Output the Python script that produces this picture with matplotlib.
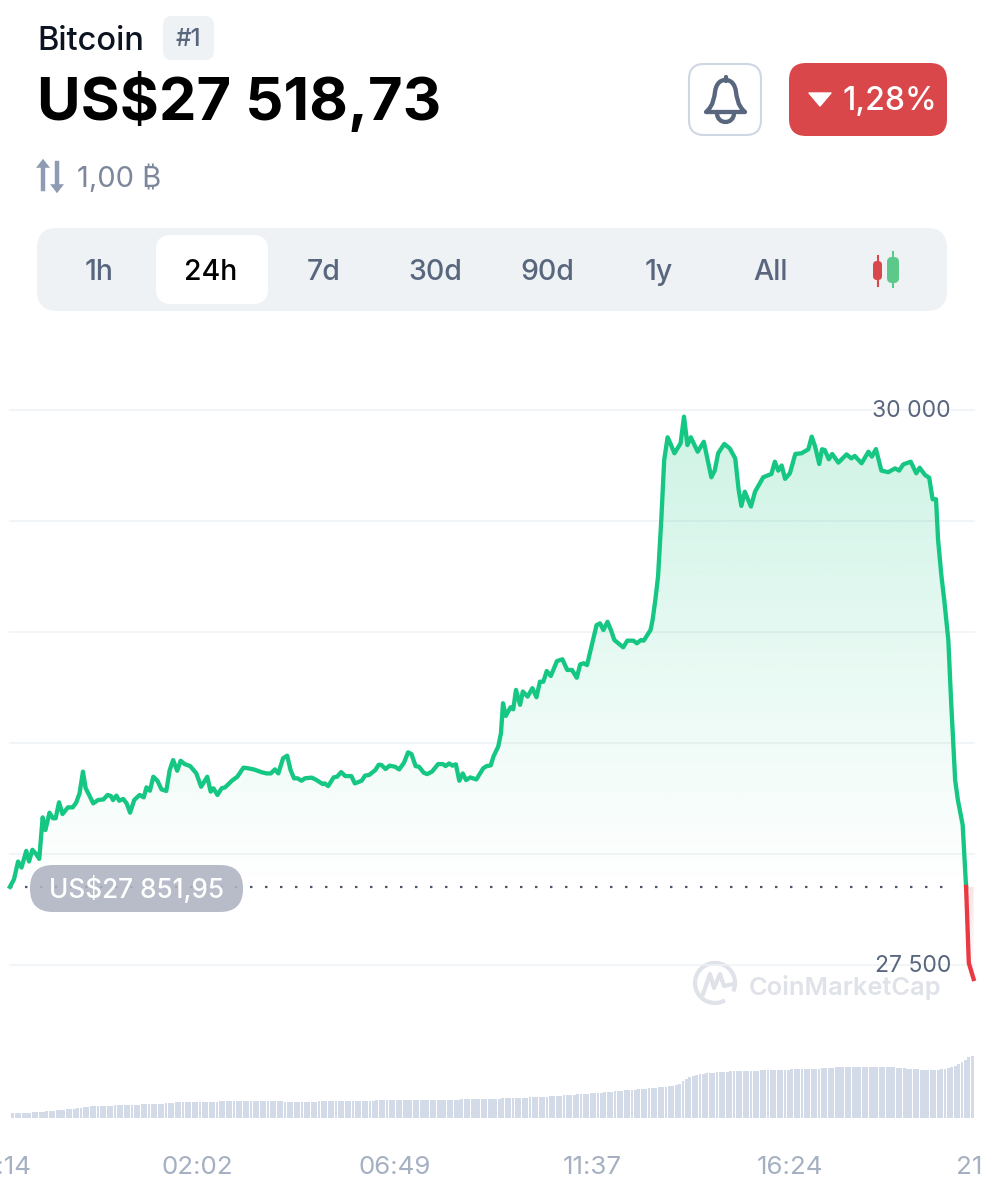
import numpy as np
import matplotlib
matplotlib.use('Agg')
import matplotlib.pyplot as plt
from matplotlib.patches import FancyBboxPatch, PathPatch, Polygon, Arc
from matplotlib.path import Path
from matplotlib.colors import to_rgb

plt.rcParams['font.family'] = ['Inter', 'DejaVu Sans']

# minutes since 21:14 / price in US$
minutes = [13, 19, 25, 30, 37, 41, 46, 51, 56, 61, 65, 71, 76, 80, 85, 90, 98, 105, 110, 115,
           120, 124, 129, 135, 142, 150, 156, 161, 164, 169, 173, 179, 184, 189, 195, 203, 209, 213, 218, 223,
           229, 235, 242, 247, 252, 258, 263, 269, 277, 286, 293, 302, 307, 311, 317, 323, 328, 338, 346, 355,
           362, 370, 382, 389, 395, 401, 406, 413, 419, 424, 429, 434, 440, 445, 455, 462, 471, 474, 479, 487,
           492, 498, 504, 513, 518, 528, 533, 539, 548, 553, 557, 563, 569, 577, 583, 590, 596, 601, 607, 612,
           619, 624, 631, 640, 647, 651, 656, 661, 666, 671, 676, 681, 687, 696, 706, 711, 717, 721, 728, 732,
           735, 739, 746, 750, 754, 760, 764, 771, 778, 784, 789, 794, 799, 805, 814, 822, 829, 836, 843, 848,
           853, 858, 872, 877, 882, 888, 893, 898, 911, 917, 926, 931, 937, 941, 951, 954, 958, 962, 967, 971,
           976, 980, 986, 995, 1000, 1005, 1010, 1020, 1029, 1040, 1045, 1050, 1059, 1067, 1075, 1080, 1084, 1089, 1098, 1104,
           1116, 1128, 1133, 1138, 1143, 1148, 1155, 1163, 1172, 1182, 1187, 1192, 1198, 1202, 1206, 1212, 1217, 1226, 1238, 1245,
           1250, 1260, 1270, 1275, 1281, 1289, 1299, 1309, 1315, 1321, 1332, 1340, 1345, 1353, 1359, 1364, 1369, 1372, 1377, 1381,
           1387, 1391, 1397, 1401, 1408, 1413, 1417, 1424]
prices = [27852, 27886, 27966, 27939, 28014, 27966, 28019, 28001, 27978, 28165, 28108, 28186, 28161, 28161, 28233, 28180, 28210, 28210, 28231, 28273,
          28371, 28296, 28266, 28228, 28243, 28246, 28266, 28261, 28243, 28263, 28240, 28248, 28228, 28186, 28243, 28266, 28255, 28300, 28285, 28348,
          28330, 28291, 28284, 28378, 28423, 28375, 28420, 28405, 28396, 28363, 28303, 28348, 28281, 28296, 28266, 28296, 28300, 28330, 28348, 28389,
          28386, 28381, 28368, 28363, 28363, 28381, 28363, 28431, 28443, 28378, 28341, 28341, 28330, 28341, 28344, 28333, 28315, 28318, 28306, 28345,
          28348, 28369, 28351, 28351, 28318, 28330, 28353, 28356, 28378, 28402, 28401, 28383, 28398, 28393, 28381, 28411, 28458, 28450, 28396, 28393,
          28366, 28360, 28371, 28405, 28405, 28396, 28408, 28398, 28404, 28330, 28363, 28333, 28345, 28336, 28386, 28396, 28399, 28439, 28484, 28544,
          28679, 28622, 28661, 28652, 28739, 28672, 28732, 28709, 28747, 28706, 28776, 28776, 28824, 28802, 28869, 28877, 28829, 28829, 28794, 28854,
          28859, 28851, 29031, 29039, 29009, 29046, 29009, 28964, 28931, 28961, 28961, 28949, 28964, 28961, 29009, 29054, 29144, 29250, 29520, 29775,
          29877, 29850, 29805, 29850, 29970, 29842, 29877, 29812, 29857, 29697, 29727, 29805, 29847, 29827, 29782, 29640, 29568, 29632, 29565, 29632,
          29697, 29712, 29767, 29727, 29750, 29690, 29715, 29802, 29805, 29823, 29880, 29835, 29757, 29823, 29820, 29778, 29802, 29763, 29800, 29782,
          29793, 29760, 29812, 29790, 29824, 29727, 29720, 29737, 29727, 29755, 29767, 29715, 29740, 29707, 29695, 29598, 29598, 29415, 29250, 29145,
          28964, 28694, 28333, 28243, 28131, 27852, 27509, 27437]
open_price = 27851.95

# volume, relative height of each bar
volume = [5, 5, 5, 5, 5.5, 5.5, 6, 6, 6.5, 6.5, 7, 7, 7.5, 8, 8, 8.5, 9, 9, 9.5, 10,
          10.5, 11, 11.5, 12, 12, 12, 12, 12.5, 12.5, 12.5, 13, 13, 13, 13, 13.5, 13.5, 13.5, 13.5, 14, 14,
          14, 14, 14.5, 14.5, 14.5, 15, 15, 15.5, 16, 16, 16, 16, 16, 16.5, 16.5, 16.5, 16.5, 16.5, 16.5, 16.5,
          16.5, 17, 17, 17, 17, 17, 17, 17, 17, 17, 17, 17, 17, 17, 17, 17, 17, 17, 17, 17,
          16.5, 16.5, 16.5, 16.5, 16.5, 16.5, 16.5, 16.5, 16.5, 16.5, 17, 17, 17, 17, 17, 17, 17, 17, 17, 17,
          17.5, 17.5, 17.5, 17.5, 17.5, 17.5, 17.5, 18, 18, 18, 18, 18, 18, 18, 18, 18, 18, 18, 18, 18,
          18, 18, 18, 18.5, 18.5, 18.5, 18.5, 18.5, 18.5, 18.5, 18.5, 18.5, 19, 19, 19, 19, 19, 19, 19, 19,
          19.5, 19.5, 19.5, 19.5, 20, 20, 20, 20, 20, 20.5, 20.5, 20.5, 21, 21, 21, 21.5, 21.5, 21.5, 22, 22,
          22.5, 22.5, 23, 23, 23, 23.5, 24, 24, 24, 24.5, 25, 25, 25, 25.5, 26, 26, 26.5, 27, 27, 27.5,
          28, 28, 28.5, 28.5, 29, 29, 29.5, 30, 30, 30.5, 31, 31, 31.5, 32, 32.5, 33, 34, 37, 39, 41,
          42, 43, 44, 44.5, 45, 45.5, 45.5, 46, 46, 46.5, 46.5, 47, 47, 47, 47, 47, 47.5, 47.5, 47.5, 47.5,
          48, 48, 48, 48, 48.5, 48.5, 48.5, 48.5, 48.5, 49, 49, 49, 49, 49, 49.5, 49.5, 49.5, 49.5, 50, 50,
          50, 50.5, 51, 51, 51, 51, 51, 51.5, 51.5, 51.5, 51.5, 51.5, 51.5, 51.5, 51, 51, 51, 51, 51, 51,
          50.5, 50, 50, 49.5, 49, 49, 49, 48.5, 48.5, 48.5, 48.5, 48.5, 48.5, 49, 49.5, 50, 51, 52, 54, 56,
          58, 61, 62]

grid_levels = [27500, 28000, 28500, 29000, 29500, 30000]
y_labels = {27500: '27 500', 30000: '30 000'}
tick_pos = [-7, 284, 574, 866, 1157, 1441]
tick_labels = ['21:14', '02:02', '06:49', '11:37', '16:24', '21:11']
tabs = ['1h', '24h', '7d', '30d', '90d', '1y', 'All']
tab_x = [99, 211, 324, 435, 547, 659, 771]

GREEN = '#16C784'
RED = '#EA3943'
SLATE = '#58667E'

W, H = 983, 1200
fig = plt.figure(figsize=(W / 100, H / 100), dpi=100, facecolor='white')


def px_axes(top, bottom, z):
    a = fig.add_axes([0, 1 - bottom / H, 1, (bottom - top) / H], zorder=z)
    a.patch.set_alpha(0)
    for s in a.spines.values():
        s.set_visible(False)
    return a


def rbox(a, x0, y0, x1, y1, r, **kw):
    a.add_patch(FancyBboxPatch((x0 + r, y0 + r), x1 - x0 - 2 * r, y1 - y0 - 2 * r,
                               boxstyle='round,pad=%f,rounding_size=%f' % (r, r), **kw))


# page chrome, pixel coordinates
ui = px_axes(0, H, 0)
ui.set_xlim(0, W)
ui.set_ylim(H, 0)
ui.axis('off')

ui.text(37, 41, 'Bitcoin', fontsize=23.5, color='#0D1421', va='center', ha='left', fontweight='medium')
rbox(ui, 163, 16, 214, 60, 9, fc='#EFF2F5', ec='none')
ui.text(188.5, 40, '#1', fontsize=17.5, color=SLATE, va='center', ha='center', fontweight='medium')
ui.text(37, 102, 'US$27 518,73', fontsize=43, color='black', va='center', ha='left', fontweight='bold')

# bell button
rbox(ui, 689, 64, 761, 135, 15, fc='white', ec='#CFD6E4', lw=1.5)
bell = Path([(706, 112), (714, 105), (714, 97), (715, 92), (716, 84), (720, 80), (725.5, 80),
             (731, 80), (735, 84), (736, 92), (737, 97), (737, 105), (745, 112), (706, 112)],
            [Path.MOVETO, Path.CURVE4, Path.CURVE4, Path.CURVE4, Path.CURVE4, Path.CURVE4, Path.CURVE4,
             Path.CURVE4, Path.CURVE4, Path.CURVE4, Path.CURVE4, Path.CURVE4, Path.CURVE4, Path.CLOSEPOLY])
ui.add_patch(PathPatch(bell, fc='none', ec=SLATE, lw=3.1, joinstyle='round'))
clapper = Path([(717, 113), (717, 125), (734, 125), (734, 113)],
               [Path.MOVETO, Path.CURVE4, Path.CURVE4, Path.CURVE4])
ui.add_patch(PathPatch(clapper, fc='none', ec=SLATE, lw=3.1))
ui.plot([725.5, 725.5], [77, 81], color=SLATE, lw=3.1, solid_capstyle='round')

# change badge
rbox(ui, 789, 63, 947, 136, 17, fc='#D9474B', ec='none')
ui.add_patch(Polygon([(809, 93), (831, 93), (820, 106)], closed=True, fc='white', ec='white', lw=1, joinstyle='round'))
ui.text(843, 102, '1,28%', fontsize=23, color='white', va='center', ha='left', fontweight='medium')

# swap icon and unit
for x, y0, y1 in [(43, 189, 166), (57, 163, 186)]:
    ui.plot([x, x], [y0, y1], color='#8F9BB3', lw=3.2)
    d = 9 if y1 > y0 else -9
    ui.add_patch(Polygon([(x - 7, y1 - d * 0.2), (x + 7, y1 - d * 0.2), (x, y1 + d * 0.8)], closed=True, fc='#8F9BB3', ec='none'))
ui.text(77, 179, '1,00 ₿', fontsize=21, color='#7C879C', va='center', ha='left')

# range tabs
rbox(ui, 37, 228, 947, 311, 20, fc='#EFF2F5', ec='none')
rbox(ui, 156, 235, 268, 304, 15, fc='white', ec='none')
for lab, x in zip(tabs, tab_x):
    ui.text(x, 273, lab, fontsize=20.5, va='center', ha='center', fontweight='medium',
            color='black' if lab == '24h' else SLATE)
ui.plot([877.5, 877.5], [256, 286], color='#D9474B', lw=1.5)
rbox(ui, 873, 261, 882, 280, 4, fc='#D9474B', ec='none')
ui.plot([893, 893], [252, 287], color='#5CC98A', lw=1.5)
rbox(ui, 887, 257, 899, 283, 5, fc='#5CC98A', ec='none')

# watermark
ui.add_patch(Arc((715, 983), 40, 40, theta1=60, theta2=385, ec='#DFE2E8', lw=3))
ui.plot([703, 710, 714, 720, 724, 733], [994, 974, 988, 974, 986, 984], color='#DFE2E8', lw=3, solid_joinstyle='round')
ui.text(749, 987, 'CoinMarketCap', fontsize=18.3, color='#DFE2E8', va='center', ha='left', fontweight='semibold')

# price chart
t = np.array(minutes, dtype=float)
p = np.array(prices, dtype=float)
xlim = (-1 / 0.683, 982 / 0.683)
ax = px_axes(350, 1000, 1)
ax.set_xlim(*xlim)
ylim = (30000 - 590 / 0.222, 30000 + 60 / 0.222)
ax.set_ylim(*ylim)
ax.hlines(grid_levels, t[0] - 2, t[-1] + 2, color='#EFF2F5', lw=1.1, zorder=1)
ax.hlines(open_price, t[0], 1395, color='#4A5568', lw=1.6, linestyles=(0, (1.1, 5.65)), zorder=2)

up = t <= 1413
down = t >= 1413


def gradient_fill(x, y, color, a_top, a_bottom, top, bottom):
    poly = ax.fill_between(x, y, open_price, color='none', lw=0)
    img = np.zeros((256, 1, 4))
    img[:, :, :3] = to_rgb(color)
    img[:, 0, 3] = np.linspace(a_top, a_bottom, 256)
    im = ax.imshow(img, extent=[x[0], x[-1], bottom, top], aspect='auto', origin='upper', zorder=1.5)
    im.set_clip_path(poly.get_paths()[0], transform=ax.transData)


gradient_fill(t[up], p[up], GREEN, 0.215, 0.0, 30000, open_price)
gradient_fill(t[down], p[down], RED, 0.14, 0.0, open_price, p[-1])
ax.set_xlim(*xlim)
ax.set_ylim(*ylim)

ax.plot(t[up], p[up], color=GREEN, lw=3.1, solid_joinstyle='round', zorder=3)
ax.plot(t[down], p[down], color=RED, lw=3.1, solid_joinstyle='miter', zorder=3)

for level, lab in y_labels.items():
    ax.annotate(lab, (1, level), xycoords=('axes fraction', 'data'), xytext=(-23, -0.5), textcoords='offset points',
                ha='right', va='center', color=SLATE, fontsize=16.5)
ax.set_yticks([])
ax.set_xticks([])

# volume bars
vol = px_axes(1040, 1118, 1)
vol.set_xlim(*xlim)
vol.set_ylim(0, 78)
vol_t = np.linspace(12, 1425, len(volume))
vol.bar(vol_t, volume, width=4.2, color='#D3DAE8', lw=0)
vol.set_yticks([])
vol.set_xticks(tick_pos)
vol.set_xticklabels(tick_labels, color='#A6B0C3', fontsize=18.7)
vol.tick_params(axis='x', length=0, pad=27)

# open price pill, above the line
top = px_axes(0, H, 3)
top.set_xlim(0, W)
top.set_ylim(H, 0)
top.axis('off')
rbox(top, 30, 865, 243, 912, 23, fc='#ADB3C1', ec='none', alpha=0.88)
top.text(136.5, 890, 'US$27 851,95', fontsize=18.8, color='white', va='center', ha='center', fontweight='medium')

fig.savefig('out.png', dpi=100, facecolor='white')
